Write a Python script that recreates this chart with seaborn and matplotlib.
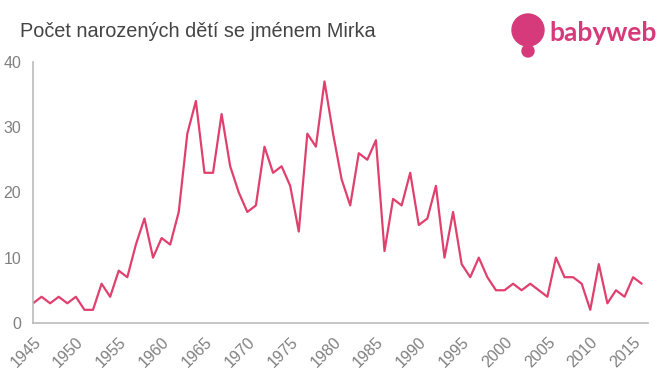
import pandas as pd
import matplotlib.pyplot as plt
import seaborn as sns
from matplotlib.patches import Circle

years = list(range(1945, 2017))
counts = [3, 4, 3, 4, 3, 4, 2, 2, 6, 4,
          8, 7, 12, 16, 10, 13, 12, 17, 29, 34,
          23, 23, 32, 24, 20, 17, 18, 27, 23, 24,
          21, 14, 29, 27, 37, 29, 22, 18, 26, 25,
          28, 11, 19, 18, 23, 15, 16, 21, 10, 17,
          9, 7, 10, 7, 5, 5, 6, 5, 6, 5,
          4, 10, 7, 7, 6, 2, 9, 3, 5, 4,
          7, 6]
tick_years = list(range(1945, 2016, 5))

df = pd.DataFrame({"rok": years, "pocet": counts})

sns.set_style("white")
plt.rcParams["font.family"] = ["Liberation Sans", "DejaVu Sans"]

fig = plt.figure(figsize=(6.6, 3.75), dpi=100)
ax = fig.add_axes([0.05, 0.139, 0.932, 0.696])

sns.lineplot(data=df, x="rok", y="pocet", ax=ax, color="#e0406e", linewidth=1.6)

ax.set_xlim(1945, 2016.75)
ax.set_ylim(0, 40)
ax.set_xticks(tick_years)
ax.set_xticklabels([str(y) for y in tick_years], rotation=45, ha="right",
                   rotation_mode="anchor")
ax.set_yticks([0, 10, 20, 30, 40])
ax.tick_params(axis="both", colors="#aaaaaa", labelcolor="#808080", labelsize=11.5,
               length=5, width=1, direction="out")
ax.set_xlabel("")
ax.set_ylabel("")
for s in ["top", "right"]:
    ax.spines[s].set_visible(False)
for s in ["left", "bottom"]:
    ax.spines[s].set_color("#bbbbbb")
    ax.spines[s].set_linewidth(1.2)

fig.text(0.03, 0.917, "Počet narozených dětí se jménem Mirka", fontsize=14.3,
         color="#444444", va="center")

# logo
pink = "#d63a7a"
fig.patches.append(Circle((5.28, 3.45), 0.16, transform=fig.dpi_scale_trans,
                          color=pink, figure=fig))
fig.patches.append(Circle((5.28, 3.24), 0.06, transform=fig.dpi_scale_trans,
                          color=pink, figure=fig))
fig.text(0.832, 0.912, "babyweb", fontsize=19, color=pink, va="center",
         fontweight="bold", family=["Lato", "DejaVu Sans"])

fig.savefig("out.png", dpi=100)
